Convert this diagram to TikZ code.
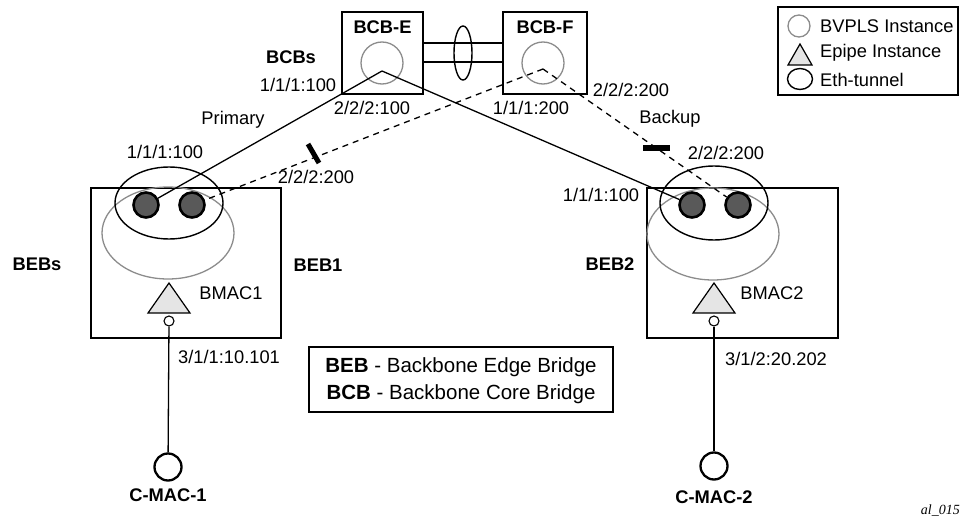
\documentclass[tikz,border=0pt]{standalone}
\usepackage{fontspec}
\setmainfont{Liberation Sans}
\newfontfamily\serifit{Liberation Serif}
\usetikzlibrary{shapes.geometric}
\begin{document}
\begin{tikzpicture}[x=1pt,y=-1pt,
  lbl/.style={inner sep=0pt,font=\fontsize{18.3}{20}\selectfont},
  blbl/.style={inner sep=0pt,font=\fontsize{18.3}{20}\selectfont\bfseries},
  abbrlbl/.style={inner sep=0pt,font=\fontsize{20.5}{22}\selectfont},
  bridgebox/.style={draw,line width=2.6pt,rectangle,inner sep=0pt},
  vpls/.style={draw=black!45,line width=1.3pt,circle,inner sep=0pt},
  tunnel/.style={draw,line width=1.4pt,ellipse,inner sep=0pt},
  vplsell/.style={draw=black!45,line width=1.3pt,ellipse,inner sep=0pt},
  sap/.style={draw,line width=2.6pt,circle,fill=black!65,minimum size=25pt,inner sep=0pt},
  link/.style={line width=1.3pt},
  backlink/.style={line width=1.3pt,dash pattern=on 6pt off 5pt},
  epipe/.style={draw,line width=1.2pt,fill=black!10},
  portc/.style={draw,line width=1.1pt,circle,fill=white,minimum size=10pt,inner sep=0pt},
  cmac/.style={draw,line width=2.3pt,circle,minimum size=27pt,inner sep=0pt},
  blockbar/.style={line width=5pt}]
\useasboundingbox (0,0) rectangle (962,524);

% BCB boxes
\node[bridgebox,minimum width=81pt,minimum height=82pt] (bcbe) at (382.5,53) {};
\node[bridgebox,minimum width=84pt,minimum height=82pt] (bcbf) at (545,53) {};
\node[blbl] (bcbet) at (382.5,27) {BCB-E};
\node[blbl] (bcbft) at (545,27) {BCB-F};
\node[vpls,minimum size=42pt] (ve) at (382,63) {};
\node[vpls,minimum size=42pt] (vf) at (543,63) {};
\coordinate (eV) at (382,71);
\coordinate (fV) at (543,69);

% links between BCBs
\draw[link] ([yshift=10pt]bcbe.east) -- ([yshift=10pt]bcbf.west);
\draw[link] ([yshift=-9pt]bcbe.east) -- ([yshift=-9pt]bcbf.west);
\node[tunnel,minimum width=18pt,minimum height=54pt] (ethc) at (463,53) {};

% BEB boxes
\node[bridgebox,minimum width=190pt,minimum height=150pt] (beb1) at (186,263) {};
\node[bridgebox,minimum width=191pt,minimum height=150pt] (beb2) at (742.5,263) {};

\node[vplsell,minimum width=132pt,minimum height=92pt] (v1) at (168,233) {};
\node[vplsell,minimum width=132pt,minimum height=92pt] (v2) at (713,234) {};
\node[tunnel,minimum width=108pt,minimum height=72pt] (t1) at (169,203) {};
\node[tunnel,minimum width=108pt,minimum height=74pt] (t2) at (714,203) {};

\node[sap] (d1a) at (146,205) {};
\node[sap] (d1b) at (192,205) {};
\node[sap] (d2a) at (692,205) {};
\node[sap] (d2b) at (738,205) {};

% primary / backup links
\draw[link] (eV) -- (d1a);
\draw[link] (eV) -- (d2a);
\draw[backlink] (fV) -- (d1b);
\draw[backlink] (fV) -- (d2b);
\coordinate (b1s) at (308,144); \coordinate (b1e) at (319,163);
\draw[blockbar] (b1s) -- (b1e);
\coordinate (b2s) at (643,148); \coordinate (b2e) at (670,148);
\draw[line width=6pt] (b2s) -- (b2e);

% epipes
\draw[epipe] (169,283) -- (190,313) -- (148,313) -- cycle;
\draw[epipe] (714,283) -- (735,313) -- (693,313) -- cycle;
\node[portc] (p1) at (169,321) {};
\node[portc] (p2) at (714,321) {};
\node[cmac] (c1) at (168,467) {};
\node[cmac] (c2) at (714,466) {};
\draw[link] (p1) -- (c1);
\draw[link] (p2) -- (c2);

% labels
\node[blbl] (bcbs) at (291,57) {BCBs};
\node[lbl] (l1) at (298,85) {1/1/1:100};
\node[lbl] (l2) at (372,108) {2/2/2:100};
\node[lbl] (l3) at (531,108) {1/1/1:200};
\node[lbl] (l4) at (631,90) {2/2/2:200};
\node[lbl] (prim) at (233,120) {Primary};
\node[lbl] (back) at (670,119) {Backup};
\node[lbl] (l5) at (165,152) {1/1/1:100};
\node[lbl] (l6) at (316,177) {2/2/2:200};
\node[lbl] (l7) at (726,153) {2/2/2:200};
\node[lbl] (l8) at (601,195) {1/1/1:100};
\node[blbl] (bebs) at (37,264) {BEBs};
\node[blbl] (beb1t) at (318,265) {BEB1};
\node[blbl] (beb2t) at (610,264) {BEB2};
\node[lbl] (bm1) at (231,293) {BMAC1};
\node[lbl] (bm2) at (772,293) {BMAC2};
\node[lbl] (s1) at (229,357) {3/1/1:10.101};
\node[lbl] (s2) at (776,359) {3/1/2:20.202};
\node[blbl] (cm1) at (168,495) {C-MAC-1};
\node[blbl] (cm2) at (714,497) {C-MAC-2};

% abbreviation legend
\node[draw,line width=1.2pt,minimum width=304pt,minimum height=65pt,inner sep=0pt] (abbr) at (461,379.5) {};
\node[abbrlbl] (a1) at (461,367) {\textbf{BEB} - Backbone Edge Bridge};
\node[abbrlbl] (a2) at (461,394) {\textbf{BCB} - Backbone Core Bridge};

% symbol legend
\node[draw,line width=1.2pt,minimum width=180pt,minimum height=88pt,inner sep=0pt] (leg) at (868,51) {};
\node[vpls,minimum size=22pt] (lgc) at (799,26) {};
\draw[epipe] (800,44) -- (812,65) -- (788,65) -- cycle;
\node[tunnel,minimum width=25pt,minimum height=21pt] (lge) at (800,79) {};
\node[lbl,anchor=west] (lt1) at (820,26) {BVPLS Instance};
\node[lbl,anchor=west] (lt2) at (820,53) {Epipe Instance};
\node[lbl,anchor=west] (lt3) at (820,80) {Eth-tunnel};

\node[inner sep=0pt,anchor=east,font=\fontsize{14}{16}\selectfont\serifit\itshape] (al) at (960,511) {al\_015};
\end{tikzpicture}
\end{document}
